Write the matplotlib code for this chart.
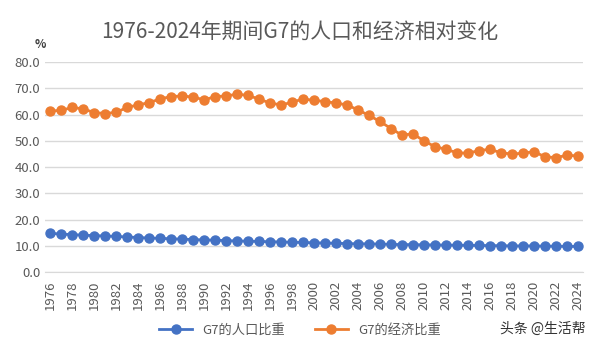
import matplotlib
matplotlib.use("Agg")
import matplotlib.pyplot as plt
from matplotlib.ticker import FormatStrFormatter

plt.rcParams['font.family'] = ['Noto Sans CJK SC', 'DejaVu Sans']

years = list(range(1976, 2025))
population = [14.8, 14.5, 14.3, 14.1, 13.9, 13.8, 13.6, 13.4, 13.2, 13.0,
              12.9, 12.7, 12.6, 12.4, 12.3, 12.2, 12.0, 11.9, 11.8, 11.7,
              11.6, 11.5, 11.4, 11.3, 11.2, 11.1, 11.0, 10.9, 10.8, 10.8,
              10.7, 10.6, 10.5, 10.5, 10.4, 10.4, 10.3, 10.3, 10.2, 10.2,
              10.1, 10.1, 10.0, 10.0, 10.0, 9.9, 9.9, 9.8, 9.8]
economy = [61.4, 61.6, 62.8, 62.1, 60.8, 60.4, 60.9, 62.8, 63.7, 64.6,
           66.0, 66.9, 67.1, 66.7, 65.6, 66.9, 67.1, 67.8, 67.3, 65.9,
           64.4, 63.7, 64.7, 66.0, 65.4, 65.0, 64.4, 63.7, 61.8, 59.7,
           57.4, 54.7, 52.2, 52.7, 50.0, 47.8, 46.8, 45.5, 45.3, 46.3,
           46.8, 45.5, 45.0, 45.3, 45.9, 44.0, 43.6, 44.5, 44.3]
labels = ["G7的人口比重", "G7的经济比重"]

grey = "#595959"
fig = plt.figure(figsize=(6, 3.53), dpi=100)
ax = fig.add_axes([0.075, 0.229, 0.897, 0.595])

ax.plot(years, population, color="#4472C4", marker="o", markersize=6.5, linewidth=2, label=labels[0])
ax.plot(years, economy, color="#ED7D31", marker="o", markersize=6.5, linewidth=2, label=labels[1])

ax.set_xlim(1975.5, 2024.5)
ax.set_ylim(0, 80)
ax.set_yticks(range(0, 81, 10))
ax.yaxis.set_major_formatter(FormatStrFormatter("%.1f"))
ax.set_xticks(years[::2])
ax.set_xticklabels([str(y) for y in years[::2]], rotation=90)
ax.tick_params(axis="both", length=0, labelsize=9.5, colors=grey)
ax.tick_params(axis="x", pad=6)
ax.grid(axis="y", color="#D9D9D9", linewidth=1)
ax.set_axisbelow(True)
for s in ["top", "right", "left"]:
    ax.spines[s].set_visible(False)
ax.spines["bottom"].set_color("#D9D9D9")

fig.text(0.5, 0.91, "1976-2024年期间G7的人口和经济相对变化", ha="center", va="center",
         fontsize=15, color=grey)
fig.text(0.068, 0.875, "%", ha="center", va="center", fontsize=8.5, color="#404040",
         fontweight="bold")

fig.legend(loc="center", bbox_to_anchor=(0.5, 0.065), ncol=2, frameon=False,
           fontsize=9.5, labelcolor=grey, handlelength=2.5, columnspacing=2.2)
fig.text(0.905, 0.068, "头条 @生活帮", ha="center", va="center", fontsize=10, color="#333333")

fig.savefig("out.png", dpi=100)
